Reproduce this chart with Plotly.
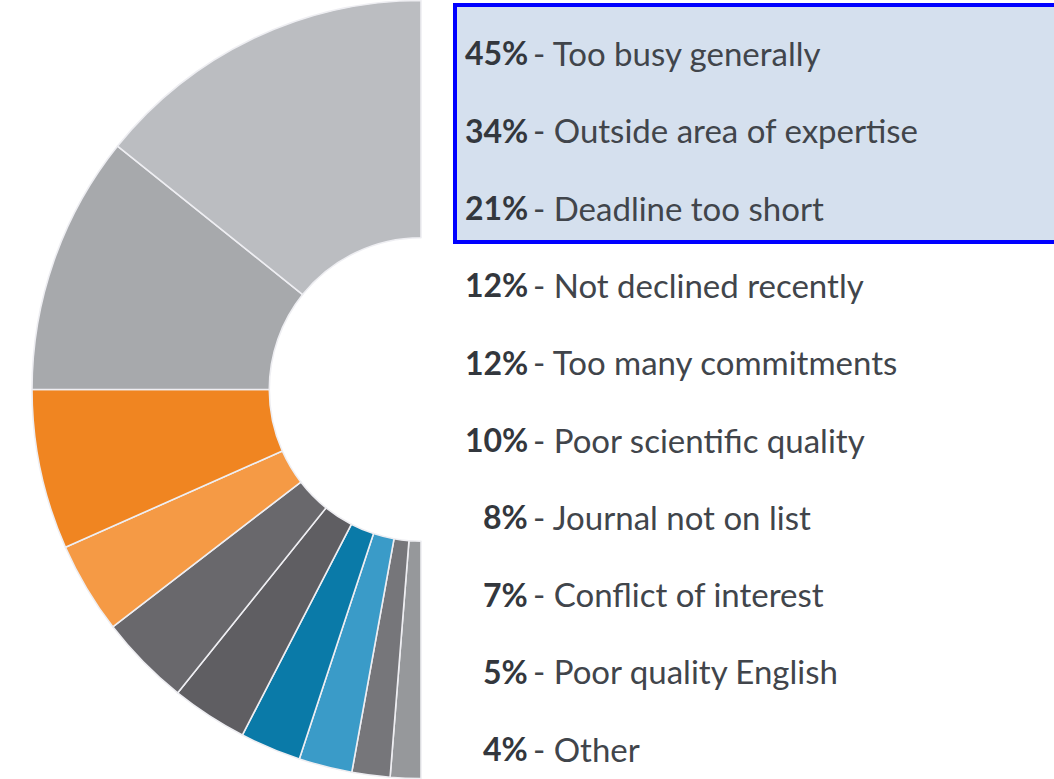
import plotly.graph_objects as go

# ---- data ----
percents = [45, 34, 21, 12, 12, 10, 8, 7, 5, 4]
reasons = [
    "Too busy generally",
    "Outside area of expertise",
    "Deadline too short",
    "Not declined recently",
    "Too many commitments",
    "Poor scientific quality",
    "Journal not on list",
    "Conflict of interest",
    "Poor quality English",
    "Other",
]
colors = ["#bbbdc1", "#a7a9ac", "#f08521", "#f59a45", "#69686c",
          "#5f5e62", "#0a7aa8", "#3a9bc8", "#76767a", "#96989b"]

W, H = 1054, 779
total = sum(percents)

# half donut: a transparent slice fills the right half (drawn clockwise from 12 o'clock),
# then the visible slices run from 6 o'clock up the left side back to 12 o'clock
values = [total] + percents[::-1]
labels = ["hidden"] + [f"{p}% - {r}" for p, r in zip(percents, reasons)][::-1]
slice_colors = ["rgba(0,0,0,0)"] + colors[::-1]
line_widths = [0] + [1.6] * len(percents)

cx, cy, R = 421, 389.5, 389
fig = go.Figure(go.Pie(
    values=values,
    labels=labels,
    sort=False,
    direction="clockwise",
    rotation=0,
    hole=0.39,
    marker=dict(colors=slice_colors,
                line=dict(color="#eeeef2", width=line_widths)),
    textinfo="none",
    hoverinfo="label",
    showlegend=False,
    domain=dict(x=[(cx - R) / W, (cx + R) / W], y=[(H - cy - R) / H, (H - cy + R) / H]),
))

# highlighted box behind the top three reasons (runs off the right edge)
fig.add_shape(type="rect", xref="paper", yref="paper",
              x0=455 / W, x1=1.01, y0=1 - 242 / H, y1=1 - 5 / H,
              fillcolor="#d5e0ee", line=dict(color="#0000ff", width=4), layer="below")

row0, step = 53, 77.3
for i, (p, r) in enumerate(zip(percents, reasons)):
    yc = 1 - (row0 + i * step) / H
    fig.add_annotation(x=530 / W, y=yc, xref="paper", yref="paper",
                       text=f"<b>{p}%</b>", showarrow=False, xanchor="right", yanchor="middle",
                       font=dict(family="Lato", size=32, color="#33373d"))
    fig.add_annotation(x=531 / W, y=yc, xref="paper", yref="paper",
                       text=f"- {r}", showarrow=False, xanchor="left", yanchor="middle",
                       font=dict(family="Lato", size=33, color="#41454b"))

fig.update_layout(width=W, height=H, margin=dict(l=0, r=0, t=0, b=0),
                  paper_bgcolor="white", plot_bgcolor="white", showlegend=False)
fig.write_html("out.html")
